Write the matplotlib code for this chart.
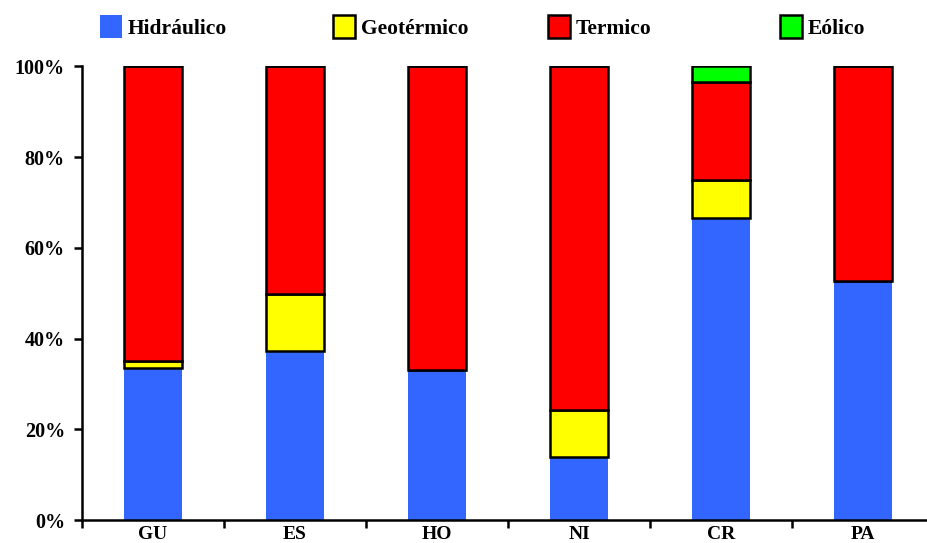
import numpy as np
import matplotlib.pyplot as plt
from matplotlib.ticker import FuncFormatter

plt.rcParams['font.family'] = ['Liberation Serif', 'DejaVu Serif']
plt.rcParams['font.weight'] = 'bold'

# Share of generation by source (%)
paises = ['GU', 'ES', 'HO', 'NI', 'CR', 'PA']
hidraulico = [33.5, 37.2, 33.0, 13.9, 66.5, 52.6]
geotermico = [1.5, 12.6, 0.0, 10.3, 8.4, 0.0]
eolico = [0.0, 0.0, 0.0, 0.0, 3.5, 0.0]
termico = [100 - h - g - e for h, g, e in zip(hidraulico, geotermico, eolico)]

fig = plt.figure(figsize=(9.27, 5.43), dpi=100)
ax = fig.add_axes([0.088, 0.042, 0.92, 0.836])

x = np.arange(len(paises))
w = 0.41
edge = dict(edgecolor='black', linewidth=1.8)

bars = []
bars.append(ax.bar(x, hidraulico, w, color='#3366FF', linewidth=0, label='Hidráulico'))
b1 = np.array(hidraulico)
bars.append(ax.bar(x, geotermico, w, bottom=b1, color='#FFFF00', label='Geotérmico', **edge))
b2 = b1 + np.array(geotermico)
bars.append(ax.bar(x, termico, w, bottom=b2, color='#FF0000', label='Termico', **edge))
b3 = b2 + np.array(termico)
bars.append(ax.bar(x, eolico, w, bottom=b3, color='#00FF00', label='Eólico', **edge))

ax.set_xlim(-0.5, len(paises) - 0.5)
ax.set_ylim(0, 100)
ax.set_yticks(np.arange(0, 101, 20))
ax.yaxis.set_major_formatter(FuncFormatter(lambda v, p: f'{v:.0f}%'))
ax.set_xticks(np.arange(-0.5, len(paises), 1.0))
ax.set_xticklabels([])
ax.set_xticks(x, minor=True)
ax.set_xticklabels(paises, minor=True)
ax.tick_params(axis='x', which='minor', length=0, pad=4, labelsize=14)
ax.tick_params(axis='x', which='major', length=6, width=1.8, direction='out')
ax.tick_params(axis='y', length=6, width=1.8, direction='out', labelsize=14.5, pad=6)

for s in ['top', 'right']:
    ax.spines[s].set_visible(False)
for s in ['left', 'bottom']:
    ax.spines[s].set_linewidth(1.8)

# one legend per entry so the spacing follows the original
leg_x = [100, 333, 548, 780]
for bc, lx in zip(bars, leg_x):
    lg = fig.legend([bc], [bc.get_label()], loc='center left',
                    bbox_to_anchor=(lx / 927, 1 - 27 / 543), frameon=False,
                    fontsize=15.5, handlelength=1.0, handleheight=1.25,
                    handletextpad=0.3, borderpad=0, borderaxespad=0)

plt.savefig('out.png', dpi=100)
